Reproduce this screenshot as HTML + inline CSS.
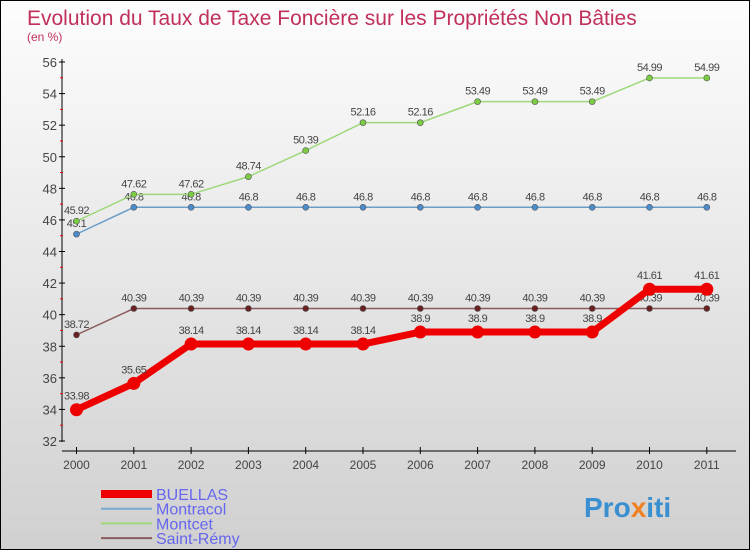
<!DOCTYPE html>
<html><head><meta charset="utf-8"><style>
body{margin:0}
#c{width:750px;height:550px;position:relative;border:1px solid #000;box-sizing:border-box;background:linear-gradient(#fdfdfd,#d0d0d0);font-family:"Liberation Sans",sans-serif;overflow:hidden}
svg{position:absolute;left:0;top:0}
</style></head><body>
<div id="c">
<svg id="s" width="750" height="550">
<text x="26" y="24" font-size="21" fill="#c0305a">Evolution du Taux de Taxe Foncière sur les Propriétés Non Bâties</text>
<text x="26" y="40" font-size="12" fill="#c0305a">(en %)</text>
<text x="583" y="516" font-size="28" font-weight="bold" fill="#3a8fd0">Pro<tspan fill="#f08020">x</tspan>iti</text>
</svg>
</div>
<script>
const years=[2000,2001,2002,2003,2004,2005,2006,2007,2008,2009,2010,2011];
const buellas=[33.98,35.65,38.14,38.14,38.14,38.14,38.9,38.9,38.9,38.9,41.61,41.61];
const montracol=[45.1,46.8,46.8,46.8,46.8,46.8,46.8,46.8,46.8,46.8,46.8,46.8];
const montcet=[45.92,47.62,47.62,48.74,50.39,52.16,52.16,53.49,53.49,53.49,54.99,54.99];
const stremy=[38.72,40.39,40.39,40.39,40.39,40.39,40.39,40.39,40.39,40.39,40.39,40.39];
const yTicks=[32,34,36,38,40,42,44,46,48,50,52,54,56];
const NS="http://www.w3.org/2000/svg";
const s=document.getElementById('s');
const X=i=>75.5+i*57.3;
const Y=v=>440-(v-32)*(379/24);
function mk(t,a,p){const e=document.createElementNS(NS,t);for(const k in a)e.setAttribute(k,a[k]);(p||s).appendChild(e);return e;}
// axes
let ax=mk('line',{x1:61,y1:58,x2:61,y2:441,stroke:'#000','stroke-width':1});


let xa=mk('line',{x1:61,y1:450,x2:735,y2:450,stroke:'#000','stroke-width':1});


yTicks.forEach((v,i)=>{
 mk('line',{x1:58,y1:Y(v),x2:64,y2:Y(v),stroke:'#000'});
 if(i<yTicks.length-1)mk('line',{x1:59,y1:Y(v+1),x2:62,y2:Y(v+1),stroke:'#e00'});
 const t=mk('text',{x:56,y:Y(v)+5,'font-size':13,fill:'#444','text-anchor':'end'});t.textContent=v;
 
 
});
years.forEach((y,i)=>{
 mk('line',{x1:X(i),y1:446,x2:X(i),y2:453,stroke:'#000'});
 const t=mk('text',{x:X(i),y:468,'font-size':12,fill:'#444','text-anchor':'middle'});t.textContent=y;
 
 
});
function series(d,col,dot,w,r,name,dy){
 const g=mk('g',{});
 
 
 mk('polyline',{points:d.map((v,i)=>X(i)+','+Y(v)).join(' '),fill:'none',stroke:col,'stroke-width':w,'stroke-linejoin':'round'},g);
 d.forEach((v,i)=>{
  const c=mk('circle',{cx:X(i),cy:Y(v),r:r,fill:dot,stroke:'#555','stroke-width':r>4?0:0.6},g);
  
  
  const t=mk('text',{x:X(i),y:Y(v)+dy,'font-size':11,fill:'#444','text-anchor':'middle','letter-spacing':'-0.5'},g);t.textContent=v;
  
  
 });
}
series(stremy,'#8a5a5a','#6a2020',1.5,3,'saint-remy',-7);
series(montracol,'#6a9ec8','#4a8ccc',1.5,3,'montracol',-7);
series(montcet,'#9ed87a','#7ccc44',1.5,3,'montcet',-7);
series(buellas,'#ee0000','#ee0000',7,6.5,'buellas',-10);
const leg=[['BUELLAS','#ee0000',8],['Montracol','#7aaad0',2],['Montcet','#9ed87a',2],['Saint-Rémy','#8a5a5a',2]];
leg.forEach((l,i)=>{
 const y=493+i*14.7;
 const g=mk('g',{});
 
 
 mk('line',{x1:100,y1:y,x2:151,y2:y,stroke:l[1],'stroke-width':l[2]},g);
 const t=mk('text',{x:155,y:y+6,'font-size':16,fill:'#6666ee'},g);t.textContent=l[0];
});
</script>
</body></html>
